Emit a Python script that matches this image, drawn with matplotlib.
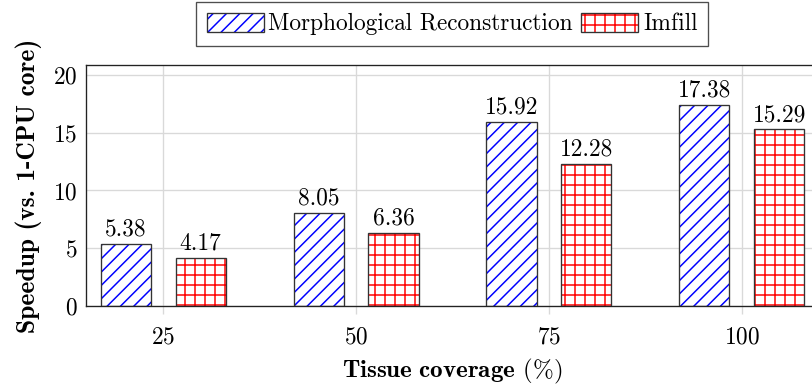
import matplotlib
matplotlib.use("Agg")
import matplotlib.pyplot as plt
from matplotlib.patches import Patch
import numpy as np

# data
coverage = [25, 50, 75, 100]
morph = [5.38, 8.05, 15.92, 17.38]
imfill = [4.17, 6.36, 12.28, 15.29]
series_names = ["Morphological Reconstruction", "Imfill"]

plt.rcParams['font.family'] = ['cmr10', 'DejaVu Serif']
plt.rcParams['mathtext.fontset'] = 'cm'
plt.rcParams['axes.formatter.use_mathtext'] = True
plt.rcParams['font.size'] = 14
plt.rcParams['hatch.linewidth'] = 0.9

fig = plt.figure(figsize=(812 / 120, 392 / 120), dpi=120)
ax = fig.add_axes([86 / 812, 1 - 306 / 392, 733 / 812, 241 / 392])

x = np.array(coverage, dtype=float)
w = 6.5
off = 4.85

# hatch first (colored edge), then black outline on top
ax.bar(x - off, morph, w, facecolor='white', edgecolor='blue', hatch='///', linewidth=0, zorder=2)
b1 = ax.bar(x - off, morph, w, facecolor='none', edgecolor='#333333', linewidth=0.8, zorder=3)
ax.bar(x + off, imfill, w, facecolor='white', edgecolor='red', hatch='++', linewidth=0, zorder=2)
b2 = ax.bar(x + off, imfill, w, facecolor='none', edgecolor='#333333', linewidth=0.8, zorder=3)

ax.bar_label(b1, labels=[f"{v:.2f}" for v in morph], padding=2, fontsize=14)
ax.bar_label(b2, labels=[f"{v:.2f}" for v in imfill], padding=2, fontsize=14)

ax.set_xlim(15, 110)
ax.set_ylim(0, 20.86)
ax.set_xticks(coverage)
ax.set_yticks([0, 5, 10, 15, 20])
ax.grid(True, color='#d9d9d9', linewidth=0.8, zorder=0)
ax.set_axisbelow(True)
ax.tick_params(axis='x', direction='out', length=5, color='#d9d9d9', pad=7)
ax.tick_params(axis='y', length=0, pad=5)
for s in ax.spines.values():
    s.set_linewidth(0.8)
    s.set_color('#222222')

ax.set_xlabel(r"$\mathbf{Tissue\ coverage}$ (%)", fontsize=15, labelpad=5)
ax.set_ylabel("Speedup (vs. 1-CPU core)", family='cmb10', fontsize=15.3, labelpad=7)

h1 = (Patch(facecolor='white', edgecolor='blue', hatch='///', linewidth=0),
      Patch(facecolor='none', edgecolor='#333333', linewidth=0.8))
h2 = (Patch(facecolor='white', edgecolor='red', hatch='++', linewidth=0),
      Patch(facecolor='none', edgecolor='#333333', linewidth=0.8))
leg = fig.legend([h1, h2], series_names, loc='center', bbox_to_anchor=(452 / 812, 1 - 24 / 392),
                 ncol=2, fontsize=14, frameon=True, fancybox=False, edgecolor='#222222',
                 handlelength=2.45, handleheight=0.86, handletextpad=0.2, columnspacing=0.35,
                 borderpad=0.45, borderaxespad=0)
leg.get_frame().set_linewidth(0.8)

fig.savefig("out.png", dpi=120)
